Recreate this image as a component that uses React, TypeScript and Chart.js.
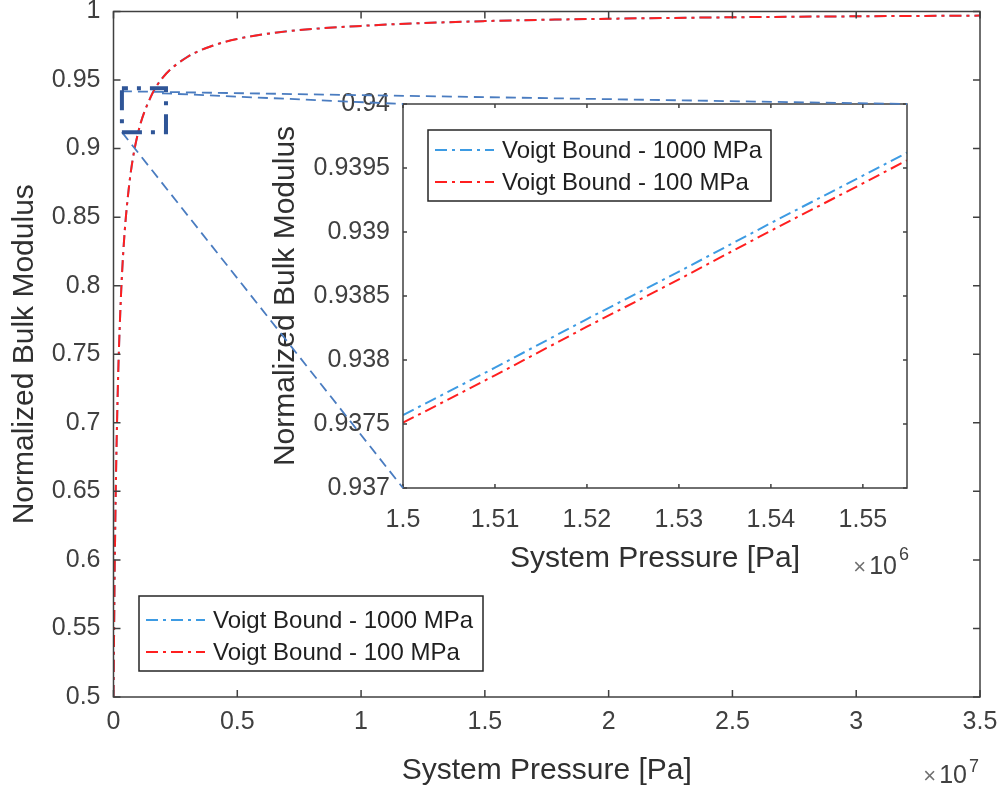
import React, { useEffect, useRef } from "react";
import { Chart, registerables } from "chart.js";

Chart.register(...registerables);

// ---------------- Data ----------------
const SERIES_LABELS = ["Voigt Bound - 1000 MPa", "Voigt Bound - 100 MPa"];
const X_TITLE = "System Pressure [Pa]";
const Y_TITLE = "Normalized Bulk Modulus";

// main plot: system pressure in Pa
const PRESSURE_PA = [
  0, 2e4, 5e4, 1e5, 1.5e5, 2e5, 3e5, 4e5, 5e5, 7e5, 1e6, 1.5e6, 2e6, 3e6,
  4e6, 5e6, 7e6, 1e7, 1.5e7, 2e7, 2.5e7, 3e7, 3.5e7,
];
const VOIGT_1000_MPA = [
  0.5, 0.5401, 0.5951, 0.6601, 0.7061, 0.7421, 0.7921, 0.8261, 0.8501,
  0.8831, 0.9121, 0.93756, 0.95206, 0.96704, 0.97503, 0.98003, 0.98552,
  0.98951, 0.99301, 0.9947, 0.9958, 0.9965, 0.997,
];
const VOIGT_100_MPA = [
  0.5, 0.54, 0.595, 0.66, 0.706, 0.742, 0.792, 0.826, 0.85, 0.883, 0.912,
  0.9375, 0.952, 0.967, 0.975, 0.98, 0.9855, 0.9895, 0.993, 0.9947, 0.9958,
  0.9965, 0.997,
];

// inset (zoomed) plot
const INSET_PRESSURE_PA = [1.5e6, 1.51e6, 1.52e6, 1.53e6, 1.54e6, 1.55e6, 1.5548e6];
const INSET_VOIGT_1000_MPA = [0.93757, 0.93794, 0.93832, 0.93869, 0.93907, 0.93944, 0.93962];
const INSET_VOIGT_100_MPA = [0.93751, 0.93788, 0.93826, 0.93863, 0.93901, 0.93938, 0.93956];

// ticks
const MAIN_X_TICKS = [0, 5e6, 1e7, 1.5e7, 2e7, 2.5e7, 3e7, 3.5e7];
const MAIN_X_TICK_LABELS = ["0", "0.5", "1", "1.5", "2", "2.5", "3", "3.5"];
const MAIN_Y_TICKS = [0.5, 0.55, 0.6, 0.65, 0.7, 0.75, 0.8, 0.85, 0.9, 0.95, 1];
const MAIN_Y_TICK_LABELS = ["0.5", "0.55", "0.6", "0.65", "0.7", "0.75", "0.8", "0.85", "0.9", "0.95", "1"];
const INSET_X_TICKS = [1.5e6, 1.51e6, 1.52e6, 1.53e6, 1.54e6, 1.55e6];
const INSET_X_TICK_LABELS = ["1.5", "1.51", "1.52", "1.53", "1.54", "1.55"];
const INSET_Y_TICKS = [0.937, 0.9375, 0.938, 0.9385, 0.939, 0.9395, 0.94];
const INSET_Y_TICK_LABELS = ["0.937", "0.9375", "0.938", "0.9385", "0.939", "0.9395", "0.94"];

const MAIN_X_RANGE = [0, 3.5e7];
const MAIN_Y_RANGE = [0.5, 1];
const INSET_X_RANGE = [1.5e6, 1.5548e6];
const INSET_Y_RANGE = [0.937, 0.94];

// zoom marker rectangle on the main plot (data coordinates)
const ZOOM_BOX = { xMin: 3.4e5, xMax: 2.12e6, yMin: 0.912, yMax: 0.944 };

// ---------------- Styles ----------------
const FONT = '"Liberation Sans", Arial, Helvetica, sans-serif';
const BLUE = "#3d9be3";
const RED = "#ff1f1f";
const AXIS_COLOR = "#404040";
const TICK_TEXT = "#404040";
const TITLE_TEXT = "#303030";
const DASH_DOT = [12, 5, 3, 5];

function drawFrame(chart: any, tickLen: number) {
  const { ctx, chartArea: a } = chart;
  const xs = chart.scales.x;
  const ys = chart.scales.y;
  ctx.save();
  ctx.setLineDash([]);
  ctx.strokeStyle = AXIS_COLOR;
  ctx.lineWidth = 1.5;
  ctx.strokeRect(a.left, a.top, a.right - a.left, a.bottom - a.top);
  ctx.beginPath();
  xs.ticks.forEach((t: any) => {
    const px = xs.getPixelForValue(t.value);
    ctx.moveTo(px, a.bottom);
    ctx.lineTo(px, a.bottom - tickLen);
    ctx.moveTo(px, a.top);
    ctx.lineTo(px, a.top + tickLen);
  });
  ys.ticks.forEach((t: any) => {
    const py = ys.getPixelForValue(t.value);
    ctx.moveTo(a.left, py);
    ctx.lineTo(a.left + tickLen, py);
    ctx.moveTo(a.right, py);
    ctx.lineTo(a.right - tickLen, py);
  });
  ctx.stroke();
  ctx.restore();
}

function drawLegend(chart: any, left: number, top: number, w: number, h: number, rows: number[]) {
  const ctx = chart.ctx;
  ctx.save();
  ctx.fillStyle = "#ffffff";
  ctx.fillRect(left, top, w, h);
  ctx.strokeStyle = "#262626";
  ctx.lineWidth = 1.5;
  ctx.setLineDash([]);
  ctx.strokeRect(left, top, w, h);
  chart.data.datasets.forEach((ds: any, i: number) => {
    const y = top + rows[i];
    ctx.setLineDash(ds.borderDash || []);
    ctx.strokeStyle = ds.borderColor;
    ctx.lineWidth = ds.borderWidth;
    ctx.beginPath();
    ctx.moveTo(left + 7, y);
    ctx.lineTo(left + 66, y);
    ctx.stroke();
    ctx.setLineDash([]);
    ctx.fillStyle = "#1f1f1f";
    ctx.font = `24px ${FONT}`;
    ctx.textAlign = "left";
    ctx.textBaseline = "middle";
    ctx.fillText(ds.label, left + 74, y + 1);
  });
  ctx.restore();
}

function drawTitles(chart: any, xTitleOffset: number, yTitleX: number) {
  const { ctx, chartArea: a } = chart;
  ctx.save();
  ctx.fillStyle = TITLE_TEXT;
  ctx.font = `30px ${FONT}`;
  ctx.textAlign = "center";
  ctx.textBaseline = "middle";
  ctx.fillText(X_TITLE, (a.left + a.right) / 2, a.bottom + xTitleOffset);
  ctx.translate(yTitleX, (a.top + a.bottom) / 2);
  ctx.rotate(-Math.PI / 2);
  ctx.fillText(Y_TITLE, 0, 0);
  ctx.restore();
}

function drawExponent(chart: any, xRight: number, y: number, supDy: number, exp: string) {
  const ctx = chart.ctx;
  ctx.save();
  ctx.fillStyle = TICK_TEXT;
  ctx.textBaseline = "middle";
  ctx.font = `25px ${FONT}`;
  ctx.textAlign = "right";
  ctx.fillText("10", xRight, y);
  const w10 = ctx.measureText("10").width;
  ctx.font = `22px ${FONT}`;
  ctx.fillStyle = "#707070";
  ctx.fillText("\u00d7", xRight - w10 - 3, y + 1);
  ctx.fillStyle = TICK_TEXT;
  ctx.font = `18px ${FONT}`;
  ctx.textAlign = "left";
  ctx.fillText(exp, xRight + 2, y + supDy);
  ctx.restore();
}

function tickFont() {
  return { family: FONT, size: 25 };
}

export default function App() {
  const mainRef = useRef<HTMLCanvasElement | null>(null);
  const insetRef = useRef<HTMLCanvasElement | null>(null);

  useEffect(() => {
    if (!mainRef.current || !insetRef.current) return;

    const mainDecor = {
      id: "mainDecor",
      afterDraw(chart: any) {
        const a = chart.chartArea;
        drawFrame(chart, 7);
        drawLegend(chart, a.left + 25.5, a.bottom - 101, 344, 75, [24, 56]);
        drawTitles(chart, 74, 25);
        drawExponent(chart, a.right - 13, a.bottom + 79, -9, "7");
      },
    };

    const main = new Chart(mainRef.current, {
      type: "line",
      data: {
        datasets: [
          {
            label: SERIES_LABELS[0],
            data: PRESSURE_PA.map((x, i) => ({ x, y: VOIGT_1000_MPA[i] })),
            borderColor: BLUE,
            borderWidth: 2,
            borderDash: DASH_DOT,
            pointRadius: 0,
            cubicInterpolationMode: "monotone",
            order: 1,
          },
          {
            label: SERIES_LABELS[1],
            data: PRESSURE_PA.map((x, i) => ({ x, y: VOIGT_100_MPA[i] })),
            borderColor: RED,
            borderWidth: 2,
            borderDash: DASH_DOT,
            pointRadius: 0,
            cubicInterpolationMode: "monotone",
            order: 0,
          },
        ],
      },
      options: {
        responsive: false,
        maintainAspectRatio: false,
        animation: false,
        events: [],
        layout: { padding: { top: 11.5, right: 24, left: 0, bottom: 0 } },
        plugins: { legend: { display: false }, tooltip: { enabled: false } },
        scales: {
          x: {
            type: "linear",
            min: MAIN_X_RANGE[0],
            max: MAIN_X_RANGE[1],
            grid: { display: false, drawTicks: false },
            border: { display: false },
            afterBuildTicks: (s: any) => {
              s.ticks = MAIN_X_TICKS.map((v) => ({ value: v }));
            },
            afterFit: (s: any) => {
              s.height = 96;
              s.paddingLeft = 0;
              s.paddingRight = 0;
            },
            ticks: {
              autoSkip: false,
              maxRotation: 0,
              padding: 10,
              color: TICK_TEXT,
              font: tickFont(),
              callback: (_v: any, i: number) => MAIN_X_TICK_LABELS[i],
            },
          },
          y: {
            type: "linear",
            min: MAIN_Y_RANGE[0],
            max: MAIN_Y_RANGE[1],
            grid: { display: false, drawTicks: false },
            border: { display: false },
            afterBuildTicks: (s: any) => {
              s.ticks = MAIN_Y_TICKS.map((v) => ({ value: v }));
            },
            afterFit: (s: any) => {
              s.width = 113.5;
              s.paddingTop = 0;
              s.paddingBottom = 0;
            },
            ticks: {
              autoSkip: false,
              padding: 13,
              color: TICK_TEXT,
              font: tickFont(),
              callback: (_v: any, i: number) => MAIN_Y_TICK_LABELS[i],
            },
          },
        },
      },
      plugins: [mainDecor],
    } as any);

    const insetDecor = {
      id: "insetDecor",
      beforeDatasetsDraw(chart: any) {
        const { ctx, chartArea: a } = chart;
        ctx.save();
        ctx.fillStyle = "#ffffff";
        ctx.fillRect(a.left, a.top, a.right - a.left, a.bottom - a.top);
        ctx.restore();
      },
      afterDraw(chart: any) {
        const a = chart.chartArea;
        const ctx = chart.ctx;
        drawFrame(chart, 4);
        drawLegend(chart, a.left + 25, a.top + 26, 343, 71, [20, 52]);
        drawTitles(chart, 71, 286);
        drawExponent(chart, a.right - 10, a.bottom + 79, -12, "6");

        // zoom marker and connectors, in the main chart's coordinates
        const mx = main.scales.x;
        const my = main.scales.y;
        const bx0 = mx.getPixelForValue(ZOOM_BOX.xMin);
        const bx1 = mx.getPixelForValue(ZOOM_BOX.xMax);
        const by0 = my.getPixelForValue(ZOOM_BOX.yMax);
        const by1 = my.getPixelForValue(ZOOM_BOX.yMin);
        ctx.save();
        ctx.strokeStyle = "#4a7cc0";
        ctx.lineWidth = 1.8;
        ctx.setLineDash([10, 6]);
        ctx.beginPath();
        ctx.moveTo(bx0, by0 + 3);
        ctx.lineTo(a.right, a.top);
        ctx.moveTo(bx1 - 4, by0 + 5);
        ctx.lineTo(a.left, a.top);
        ctx.moveTo(bx0, by1);
        ctx.lineTo(a.left, a.bottom);
        ctx.stroke();
        ctx.strokeStyle = "#2f5597";
        ctx.lineWidth = 4;
        ctx.setLineDash([20, 9, 4, 9]);
        ctx.lineDashOffset = 14;
        ctx.strokeRect(bx0, by0, bx1 - bx0, by1 - by0);
        ctx.restore();
      },
    };

    const inset = new Chart(insetRef.current, {
      type: "line",
      data: {
        datasets: [
          {
            label: SERIES_LABELS[0],
            data: INSET_PRESSURE_PA.map((x, i) => ({ x, y: INSET_VOIGT_1000_MPA[i] })),
            borderColor: BLUE,
            borderWidth: 2,
            borderDash: DASH_DOT,
            pointRadius: 0,
          },
          {
            label: SERIES_LABELS[1],
            data: INSET_PRESSURE_PA.map((x, i) => ({ x, y: INSET_VOIGT_100_MPA[i] })),
            borderColor: RED,
            borderWidth: 2,
            borderDash: DASH_DOT,
            pointRadius: 0,
          },
        ],
      },
      options: {
        responsive: false,
        maintainAspectRatio: false,
        animation: false,
        events: [],
        layout: { padding: { top: 104, right: 97, left: 0, bottom: 0 } },
        plugins: { legend: { display: false }, tooltip: { enabled: false } },
        scales: {
          x: {
            type: "linear",
            min: INSET_X_RANGE[0],
            max: INSET_X_RANGE[1],
            grid: { display: false, drawTicks: false },
            border: { display: false },
            afterBuildTicks: (s: any) => {
              s.ticks = INSET_X_TICKS.map((v) => ({ value: v }));
            },
            afterFit: (s: any) => {
              s.height = 305;
              s.paddingLeft = 0;
              s.paddingRight = 0;
            },
            ticks: {
              autoSkip: false,
              maxRotation: 0,
              padding: 17,
              color: TICK_TEXT,
              font: tickFont(),
              callback: (_v: any, i: number) => INSET_X_TICK_LABELS[i],
            },
          },
          y: {
            type: "linear",
            min: INSET_Y_RANGE[0],
            max: INSET_Y_RANGE[1],
            grid: { display: false, drawTicks: false },
            border: { display: false },
            afterBuildTicks: (s: any) => {
              s.ticks = INSET_Y_TICKS.map((v) => ({ value: v }));
            },
            afterFit: (s: any) => {
              s.width = 403;
              s.paddingTop = 0;
              s.paddingBottom = 0;
            },
            ticks: {
              autoSkip: false,
              padding: 13,
              color: TICK_TEXT,
              font: tickFont(),
              callback: (_v: any, i: number) => INSET_Y_TICK_LABELS[i],
            },
          },
        },
      },
      plugins: [insetDecor],
    } as any);

    return () => {
      inset.destroy();
      main.destroy();
    };
  }, []);

  return (
    <div style={{ position: "absolute", left: 0, top: 0, width: 1004, height: 793, background: "#ffffff" }}>
      <canvas ref={mainRef} width={1004} height={793} style={{ position: "absolute", left: 0, top: 0 }} />
      <canvas ref={insetRef} width={1004} height={793} style={{ position: "absolute", left: 0, top: 0 }} />
    </div>
  );
}
